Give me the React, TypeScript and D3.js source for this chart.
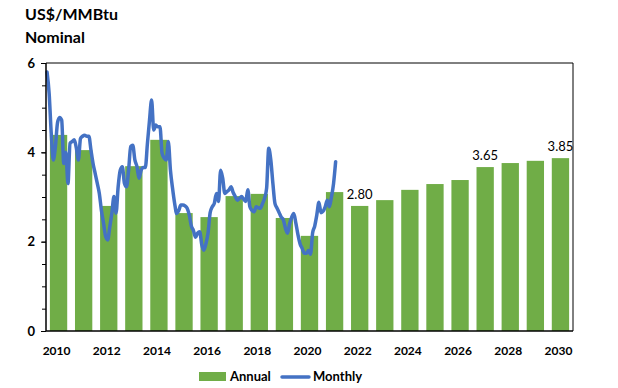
import React, { useEffect, useRef } from 'react'
import * as d3 from 'd3'

// annual average price, US$/MMBtu
const years = [2010, 2011, 2012, 2013, 2014, 2015, 2016, 2017, 2018, 2019, 2020,
  2021, 2022, 2023, 2024, 2025, 2026, 2027, 2028, 2029, 2030]
const annual = [4.39, 4.05, 2.80, 3.69, 4.28, 2.64, 2.55, 3.02, 3.07, 2.53, 2.13,
  3.11, 2.80, 2.93, 3.16, 3.29, 3.38, 3.67, 3.76, 3.81, 3.87]

// labelled bars
const labelYears = [2022, 2027, 2030]
const labelTexts = ['2.80', '3.65', '3.85']

// monthly price from Jan 2010
const monthlyStart = 2010
const monthly = [
  5.80, 5.32, 4.43, 3.83, 4.13, 4.66, 4.78, 4.72, 3.75, 4.00, 3.30, 4.20,
  4.24, 4.28, 4.10, 3.83, 4.31, 4.36, 4.38, 4.36, 4.36, 4.05, 3.75, 3.53,
  3.31, 3.08, 2.70, 2.42, 2.12, 2.04, 2.33, 2.64, 3.01, 2.64, 3.23, 3.60,
  3.68, 3.31, 3.23, 3.60, 4.13, 4.16, 3.83, 3.68, 3.42, 3.60, 3.66, 3.66,
  4.20, 4.72, 5.17, 4.50, 4.61, 4.57, 4.57, 3.98, 3.87, 3.83, 4.24, 3.60,
  3.20, 2.86, 2.63, 2.70, 2.82, 2.82, 2.80, 2.75, 2.60, 2.35, 2.25, 2.10,
  2.19, 2.22, 1.93, 1.81, 1.96, 2.20, 2.65, 2.78, 2.86, 3.08, 2.90, 3.60,
  3.42, 3.08, 3.12, 3.16, 3.23, 3.10, 3.01, 2.93, 2.97, 3.01, 2.95, 2.90,
  3.16, 2.78, 2.70, 2.67, 2.78, 2.76, 2.75, 2.85, 2.97, 3.20, 4.09, 3.83,
  3.30, 2.85, 2.75, 2.65, 2.55, 2.49, 2.30, 2.19, 2.40, 2.55, 2.63, 2.41,
  2.15, 1.95, 1.85, 1.74, 1.74, 1.80, 1.72, 2.20, 2.35, 2.60, 2.88, 2.65,
  2.68, 2.78, 2.93, 2.78, 3.00, 3.30, 3.79,
]

const yTicks = [0, 2, 4, 6]
const xTickYears = [2010, 2012, 2014, 2016, 2018, 2020, 2022, 2024, 2026, 2028, 2030]

const green = '#70AD47'
const blue = '#4472C4'
const font = 'Lato, "Open Sans", sans-serif'

export default function App() {
  const yAxisRef = useRef<SVGGElement>(null)
  const yMinorRef = useRef<SVGGElement>(null)

  const width = 618
  const height = 388
  const left = 46, right = 573, top = 63, bottom = 331

  const x = d3.scaleBand<number>()
    .domain(years)
    .range([left, right])
    .paddingInner(0.31)
    .paddingOuter(0.155)

  const xTime = d3.scaleLinear()
    .domain([years[0], years[years.length - 1] + 1])
    .range([left, right])

  const y = d3.scaleLinear().domain([0, 6]).range([bottom, top])

  const line = d3.line<number>()
    .x((_, i) => xTime(monthlyStart + (i + 0.5) / 12))
    .y(d => y(d))
    .curve(d3.curveMonotoneX)

  useEffect(() => {
    const yAxis = d3.axisLeft(y).tickValues(yTicks).tickSize(5).tickPadding(6).tickFormat(d3.format('d'))
    const g = d3.select(yAxisRef.current!)
    g.call(yAxis)
    g.select('.domain').remove()
    g.selectAll('line').attr('stroke', '#000')
    g.selectAll('text')
      .attr('font-family', font)
      .attr('font-weight', 'bold')
      .attr('font-size', 13)
      .attr('fill', '#000')

    const minor = d3.axisLeft(y).tickValues(d3.range(0, 6.01, 0.5)).tickSize(4).tickFormat(() => '')
    const m = d3.select(yMinorRef.current!)
    m.call(minor)
    m.select('.domain').remove()
    m.selectAll('line').attr('stroke', '#000')
  }, [])

  return (
    <svg width={width} height={height} style={{ position: 'absolute', left: 0, top: 0, background: '#fff' }}>
      <text x={25} y={20} fontFamily={font} fontWeight="bold" fontSize={16} fill="#000">US$/MMBtu</text>
      <text x={25} y={43} fontFamily={font} fontWeight="bold" fontSize={16} fill="#000">Nominal</text>

      <g>
        {years.map((yr, i) => (
          <rect key={yr} x={x(yr)} y={y(annual[i])} width={x.bandwidth()}
            height={y(0) - y(annual[i])} fill={green} />
        ))}
      </g>

      <path d={line(monthly) ?? ''} fill="none" stroke={blue} strokeWidth={3.5}
        strokeLinejoin="round" strokeLinecap="round" />

      {labelYears.map((yr, i) => (
        <text key={yr} x={x(yr)! + x.bandwidth() / 2} y={y(annual[years.indexOf(yr)]) - 7}
          textAnchor="middle" fontFamily={font} fontSize={13} fill="#000">{labelTexts[i]}</text>
      ))}

      {/* plot area frame */}
      <line x1={left} x2={right} y1={top} y2={top} stroke="#000" strokeWidth={1} />
      <line x1={right} x2={right} y1={top} y2={bottom} stroke="#000" strokeWidth={1} />
      <line x1={left} x2={left} y1={top} y2={bottom} stroke="#000" strokeWidth={1.5} />
      <line x1={left} x2={right} y1={bottom} y2={bottom} stroke="#000" strokeWidth={1.5} />

      <g ref={yMinorRef} transform={`translate(${left},0)`} />
      <g ref={yAxisRef} transform={`translate(${left},0)`} />

      {xTickYears.map(yr => (
        <text key={yr} x={x(yr)! + x.bandwidth() / 2 - 2} y={355} textAnchor="middle"
          fontFamily={font} fontWeight="bold" fontSize={12} fill="#000">{yr}</text>
      ))}

      {/* legend */}
      <rect x={199} y={372} width={27} height={9} fill={green} />
      <text x={230} y={381} fontFamily={font} fontWeight="bold" fontSize={13} fill="#000">Annual</text>
      <line x1={282} x2={309} y1={377} y2={377} stroke={blue} strokeWidth={3.5} strokeLinecap="round" />
      <text x={313} y={381} fontFamily={font} fontWeight="bold" fontSize={13} fill="#000">Monthly</text>
    </svg>
  )
}
